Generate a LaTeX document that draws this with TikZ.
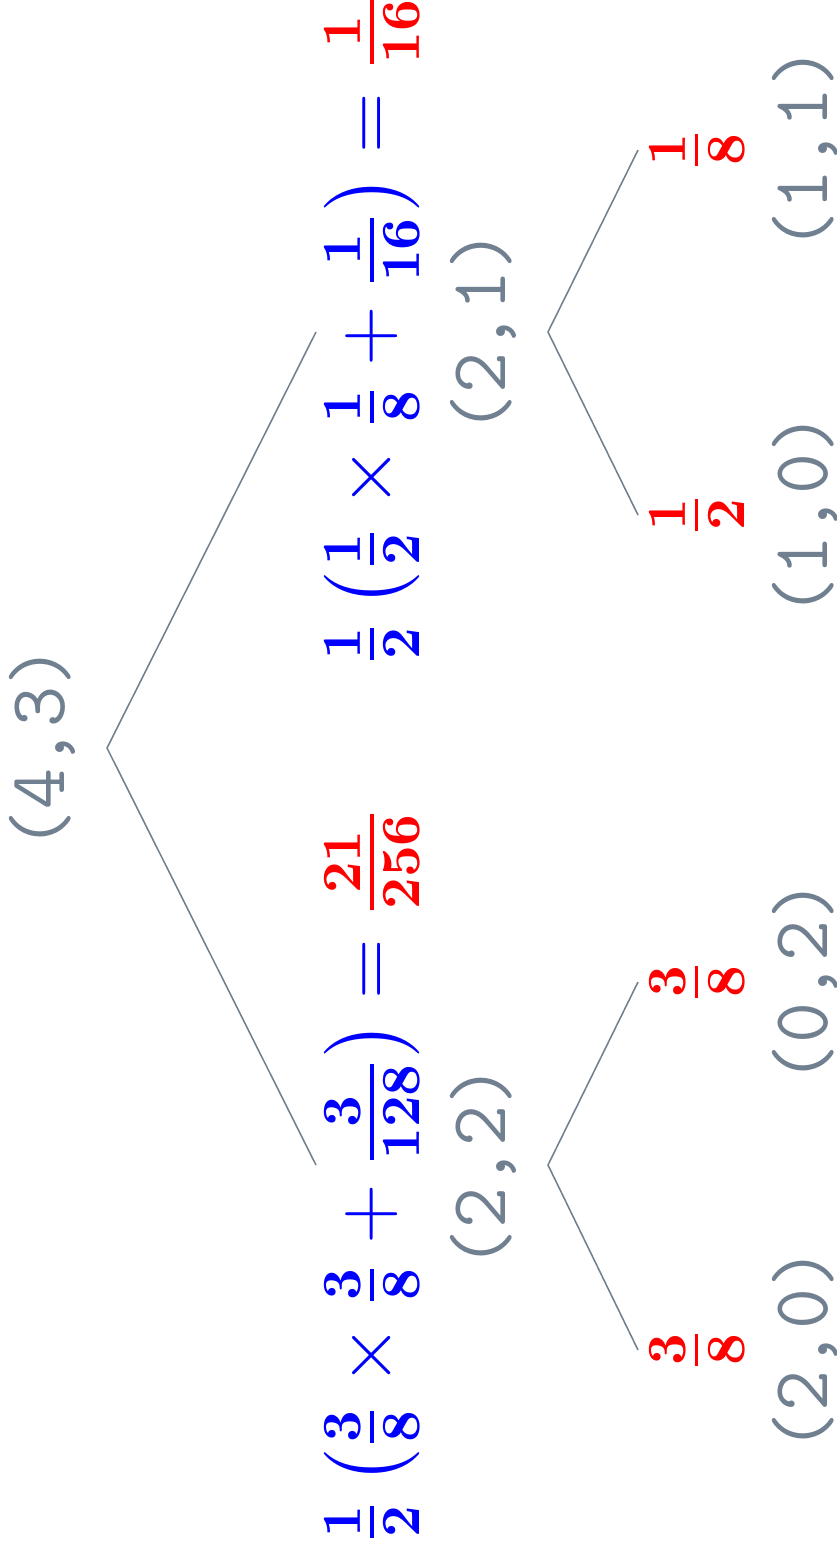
\documentclass[tikz,border=0pt]{standalone}
\usepackage{amsmath}
\usepackage{xcolor}
\usepackage{tikz}
\definecolor{treegray}{HTML}{708090}
\newcommand{\bfr}[2]{\frac{\mathbf{#1}}{\mathbf{#2}}}

\begin{document}
\begin{tikzpicture}[x=0.181pt, y=-0.181pt,
  edge/.style={draw=treegray, line width=0.28pt},
  coordlab/.style={rotate=90, text=treegray, inner sep=0pt, font=\fontsize{14.4}{17}\ttfamily\selectfont},
  sum/.style={rotate=90, text=blue, inner sep=0pt, font=\fontsize{14.4}{17}\selectfont},
  leaf/.style={rotate=90, text=red, inner sep=0pt, font=\fontsize{14.4}{17}\selectfont}]
\useasboundingbox (0,0) rectangle (837,1543);
% branch points
\coordinate (n43) at (107,748);
\coordinate (n21) at (548,332);
\coordinate (n22) at (548,1165);
\coordinate (e21) at (316,332);
\coordinate (e22) at (316,1165);
\coordinate (e11) at (638,150);
\coordinate (e10) at (638,515);
\coordinate (e02) at (638,982);
\coordinate (e20) at (638,1350);
% position labels
\node[coordlab] (p43) at (42,748) {(4,3)};
\node[coordlab] (p21) at (483,332) {(2,1)};
\node[coordlab] (p22) at (483,1167) {(2,2)};
\node[coordlab] (p11) at (805,149) {(1,1)};
\node[coordlab] (p10) at (805,515) {(1,0)};
\node[coordlab] (p02) at (805,982) {(0,2)};
\node[coordlab] (p20) at (805,1350) {(2,0)};
% values
\node[sum] (s21) at (372,330) {$\bfr{1}{2}\left(\bfr{1}{2}\times\bfr{1}{8}+\bfr{1}{16}\right)=\color{red}\bfr{1}{16}$};
\node[sum] (s22) at (372,1176) {$\bfr{1}{2}\left(\bfr{3}{8}\times\bfr{3}{8}+\bfr{3}{128}\right)=\color{red}\bfr{21}{256}$};
\node[leaf] (v11) at (697,150) {$\bfr{1}{8}$};
\node[leaf] (v10) at (697,515) {$\bfr{1}{2}$};
\node[leaf] (v02) at (697,982) {$\bfr{3}{8}$};
\node[leaf] (v20) at (697,1350) {$\bfr{3}{8}$};
% branches
\draw[edge] (e21) -- (n43) -- (e22);
\draw[edge] (e11) -- (n21) -- (e10);
\draw[edge] (e02) -- (n22) -- (e20);
\end{tikzpicture}
\end{document}
